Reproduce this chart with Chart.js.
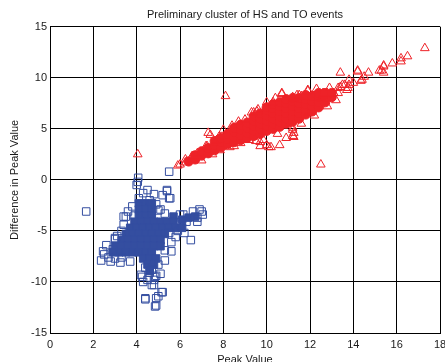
<!DOCTYPE html>
<html>
<head>
<meta charset="utf-8">
<script src="https://cdn.jsdelivr.net/npm/chart.js@4"></script>
<style>
  html, body { margin: 0; padding: 0; background: #fff; overflow: hidden; }
  #wrap { width: 445px; height: 362px; overflow: hidden; }
  canvas { display: block; }
</style>
</head>
<body>
<div id="wrap"><canvas id="my-chart" width="460" height="367"></canvas></div>
<script>
'use strict';

// ********** Chart Text **********

let chartTitle = 'Preliminary cluster of HS and TO events';
let xTitle = 'Peak Value';
let yTitle = 'Difference in Peak Value';

// ********** Axis Ticks **********

let xMin = 0, xMax = 18, xStep = 2;
let yMin = -15, yMax = 15, yStep = 5;

// ********** Data [peak, difference] **********

// red triangles, scattered ones
let redPoints = [
  [4.05,2.5],[5.9,1.4],[6.0,1.5],[6.25,1.7],[6.25,2.0],[6.55,2.3],[6.6,2.3],[6.8,2.6],[6.9,2.2],[7.0,1.9],
  [7.2,3.3],[7.25,3.3],[7.3,4.6],[7.4,4.4],[7.5,2.5],[7.7,3.9],[7.8,4.2],[7.85,2.9],[8.0,4.9],[8.1,8.2],
  [8.3,3.2],[8.4,5.3],[8.5,3.3],[8.7,5.7],[8.8,3.6],[9.0,5.9],[9.2,3.9],[9.3,6.6],[9.4,6.6],[9.5,3.8],
  [9.55,6.7],[9.6,6.9],[9.7,3.3],[9.7,3.7],[9.85,3.9],[10.0,3.4],[10.0,7.6],[10.1,3.2],[10.2,3.2],[10.3,7.6],
  [10.4,8.0],[10.5,4.5],[10.6,3.4],[10.7,8.4],[10.7,8.5],[10.9,4.1],[11.2,4.3],[11.2,4.9],[11.2,5.1],[11.2,8.1],
  [11.25,4.2],[11.25,4.6],[11.25,8.0],[11.4,8.3],[11.5,8.3],[11.6,5.5],[11.6,8.2],[11.9,6.6],[11.9,8.7],[11.9,8.8],
  [12.0,6.8],[12.2,6.3],[12.3,8.9],[12.5,1.5],[12.5,8.1],[12.6,8.3],[12.6,8.5],[12.8,7.2],[12.8,8.5],[12.9,9.0],
  [13.1,8.5],[13.2,7.8],[13.3,8.5],[13.3,9.0],[13.4,9.1],[13.4,10.5],[13.5,9.3],[13.6,9.3],[13.7,8.8],[13.75,9.0],
  [13.8,9.3],[13.8,9.8],[14.0,9.5],[14.2,10.6],[14.2,10.7],[14.35,9.7],[14.4,9.8],[14.5,10.1],[14.7,10.5],[15.2,10.7],
  [15.3,10.7],[15.4,10.5],[15.4,11.1],[15.4,11.2],[15.8,11.4],[16.2,11.6],[16.2,11.9],[16.5,12.1],[17.3,12.9]
];

// red triangles, where they pile up into a solid band
let redDense = [
  [6.4,1.8],[6.7,2.0],[6.7,2.4],[7.0,2.4],[7.0,2.8],[7.3,2.6],[7.3,3.1],[7.6,2.9],[7.6,3.4],[7.6,3.8],
  [7.9,3.2],[7.9,3.7],[7.9,4.1],[8.2,3.5],[8.2,4.0],[8.2,4.5],[8.5,3.7],[8.5,4.2],[8.5,4.7],[8.5,5.1],
  [8.8,3.9],[8.8,4.4],[8.8,4.9],[8.8,5.4],[9.1,4.1],[9.1,4.6],[9.1,5.1],[9.1,5.6],[9.4,4.3],[9.4,4.8],
  [9.4,5.3],[9.4,5.8],[9.4,6.2],[9.7,4.5],[9.7,5.0],[9.7,5.5],[9.7,6.0],[9.7,6.5],[10.0,4.8],[10.0,5.3],
  [10.0,5.8],[10.0,6.3],[10.0,6.8],[10.0,7.1],[10.3,5.0],[10.3,5.5],[10.3,6.0],[10.3,6.5],[10.3,7.0],[10.3,7.4],
  [10.6,5.2],[10.6,5.7],[10.6,6.2],[10.6,6.7],[10.6,7.2],[10.6,7.6],[10.9,5.5],[10.9,6.0],[10.9,6.5],[10.9,7.0],
  [10.9,7.5],[10.9,7.9],[11.2,5.7],[11.2,6.2],[11.2,6.7],[11.2,7.2],[11.2,7.7],[11.2,8.0],[11.5,6.0],[11.5,6.5],
  [11.5,7.0],[11.5,7.5],[11.5,8.0],[11.8,6.4],[11.8,6.9],[11.8,7.4],[11.8,7.9],[11.8,8.3],[12.1,6.7],[12.1,7.2],
  [12.1,7.7],[12.1,8.2],[12.4,7.1],[12.4,7.6],[12.4,8.1],[12.4,8.5],[12.7,7.6],[12.7,8.1],[12.7,8.5],[13.0,8.1],
  [13.0,8.5]
];

// blue squares, scattered ones
let bluePoints = [
  [4.07,0.2],[4.05,-0.2],[4.0,-0.5],[5.5,0.8],[5.4,-1.0],[5.4,-1.1],[5.5,-1.8],[5.55,-1.8],[5.2,-1.5],[4.5,-1.0],
  [4.8,-1.4],[4.1,-1.8],[4.3,-1.3],[4.6,-2.0],[4.9,-2.4],[5.0,-3.0],[5.1,-2.9],[5.3,-3.3],[1.67,-3.1],[3.5,-3.6],
  [3.4,-3.6],[3.6,-3.1],[3.8,-2.6],[3.9,-3.5],[3.4,-4.4],[3.3,-5.0],[3.1,-5.5],[3.0,-5.7],[3.0,-5.8],[2.6,-6.4],
  [2.9,-6.8],[2.45,-7.0],[2.5,-7.3],[2.7,-7.6],[2.36,-7.9],[2.8,-8.0],[3.0,-7.7],[3.3,-7.6],[3.25,-8.1],[3.7,-8.0],
  [5.3,-6.9],[5.6,-7.0],[5.6,-6.1],[5.8,-5.6],[5.5,-5.2],[5.9,-5.0],[6.2,-5.2],[6.5,-5.9],[6.0,-4.4],[6.3,-4.1],
  [6.8,-4.1],[6.0,-3.4],[6.15,-3.4],[6.6,-3.1],[6.8,-3.7],[6.9,-2.9],[7.0,-3.1],[7.05,-3.4],[5.3,-7.9],[5.0,-8.3],
  [4.4,-8.6],[4.7,-8.8],[4.6,-9.1],[4.2,-9.3],[4.9,-9.4],[4.25,-9.5],[4.85,-9.5],[5.1,-9.2],[4.5,-9.8],[4.8,-9.8],
  [4.3,-10.0],[4.7,-10.3],[4.8,-10.3],[5.15,-11.0],[5.2,-11.0],[5.0,-11.4],[4.4,-11.6],[4.9,-11.6],[4.4,-11.7],[4.85,-12.4],
  [4.9,-12.3]
];

// blue squares, where they pile up into a solid star
let blueDense = [
  [4.1,-2.3],[4.4,-2.3],[4.7,-2.3],[4.1,-2.9],[4.4,-2.9],[4.7,-2.9],[4.1,-3.5],[4.4,-3.5],[4.7,-3.5],[5.7,-3.6],
  [6.1,-3.9],[6.4,-3.7],[6.7,-3.6],[3.9,-4.1],[4.2,-4.1],[4.5,-4.1],[4.8,-4.1],[5.1,-4.1],[5.4,-4.1],[5.7,-4.1],
  [3.7,-4.7],[4.0,-4.7],[4.3,-4.7],[4.6,-4.7],[4.9,-4.7],[5.2,-4.7],[5.5,-4.7],[5.8,-4.7],[6.1,-4.7],[3.5,-5.3],
  [3.8,-5.3],[4.1,-5.3],[4.4,-5.3],[4.7,-5.3],[5.0,-5.3],[5.3,-5.3],[3.3,-5.9],[3.6,-5.9],[3.9,-5.9],[4.2,-5.9],
  [4.5,-5.9],[4.8,-5.9],[5.1,-5.9],[3.0,-6.5],[3.3,-6.5],[3.6,-6.5],[3.9,-6.5],[4.2,-6.5],[4.5,-6.5],[4.8,-6.5],
  [5.1,-6.5],[2.9,-7.1],[3.2,-7.1],[3.5,-7.1],[3.8,-7.1],[4.1,-7.1],[4.4,-7.1],[4.7,-7.1],[4.3,-7.7],[4.6,-7.7],
  [4.9,-7.7],[4.5,-8.3],[4.8,-8.3],[4.6,-8.9]
];

// ********** Styles **********

let redColor = 'rgb(238,34,40)';
let blueColor = 'rgb(52,78,160)';
let textColor = '#1a1a1a';
let fontFamily = '"Liberation Sans", Arial, sans-serif';

// ********** Helper Functions **********

function toXY(pairs){
  return pairs.map(p => ({x: p[0], y: p[1]}));
}

function makeSet(label, pairs, style, color, filled){
  let radius = 5;
  if(style === 'rect'){ radius = 5.3; }
  if(style === 'circle'){ radius = 4.6; }
  return {
    label: label,
    data: toXY(pairs),
    pointStyle: style,
    pointRadius: radius,
    borderColor: color,
    backgroundColor: filled ? color : 'rgba(0,0,0,0)',
    pointBorderWidth: 1,
    showLine: false
  };
}

// ********** Chart **********

Chart.defaults.font.family = fontFamily;
Chart.defaults.font.size = 11;
Chart.defaults.color = textColor;

let canvasElem = document.getElementById('my-chart');

let gridStyle = { color: '#000', lineWidth: 1, drawTicks: false };

new Chart(canvasElem, {
  type: 'scatter',
  data: {
    datasets: [
      makeSet('TO', redPoints, 'triangle', redColor, false),
      makeSet('TO dense', redDense, 'circle', redColor, true),
      makeSet('HS', bluePoints, 'rect', blueColor, false),
      makeSet('HS dense', blueDense, 'rect', blueColor, true)
    ]
  },
  options: {
    responsive: false,
    animation: false,
    layout: { padding: { left: 0, right: 20, top: 0, bottom: 0 } },
    plugins: {
      legend: { display: false },
      tooltip: { enabled: false },
      title: {
        display: true,
        fullSize: false,
        text: chartTitle,
        color: textColor,
        font: { size: 11, weight: 'normal' },
        padding: { top: 8, bottom: 5.5 }
      }
    },
    scales: {
      x: {
        type: 'linear',
        min: xMin,
        max: xMax,
        ticks: { stepSize: xStep, padding: 5, maxRotation: 0, autoSkip: false, color: textColor },
        grid: gridStyle,
        border: { color: '#000' },
        title: { display: true, text: xTitle, color: textColor, padding: 0 },
        afterFit: function(scale){ scale.height = 34; }
      },
      y: {
        type: 'linear',
        min: yMin,
        max: yMax,
        ticks: { stepSize: yStep, padding: 3, color: textColor },
        grid: gridStyle,
        border: { color: '#000' },
        title: { display: true, text: yTitle, color: textColor, padding: { top: 8.4, bottom: 0 } },
        afterFit: function(scale){ scale.width = 50; }
      }
    }
  }
});
</script>
</body>
</html>
